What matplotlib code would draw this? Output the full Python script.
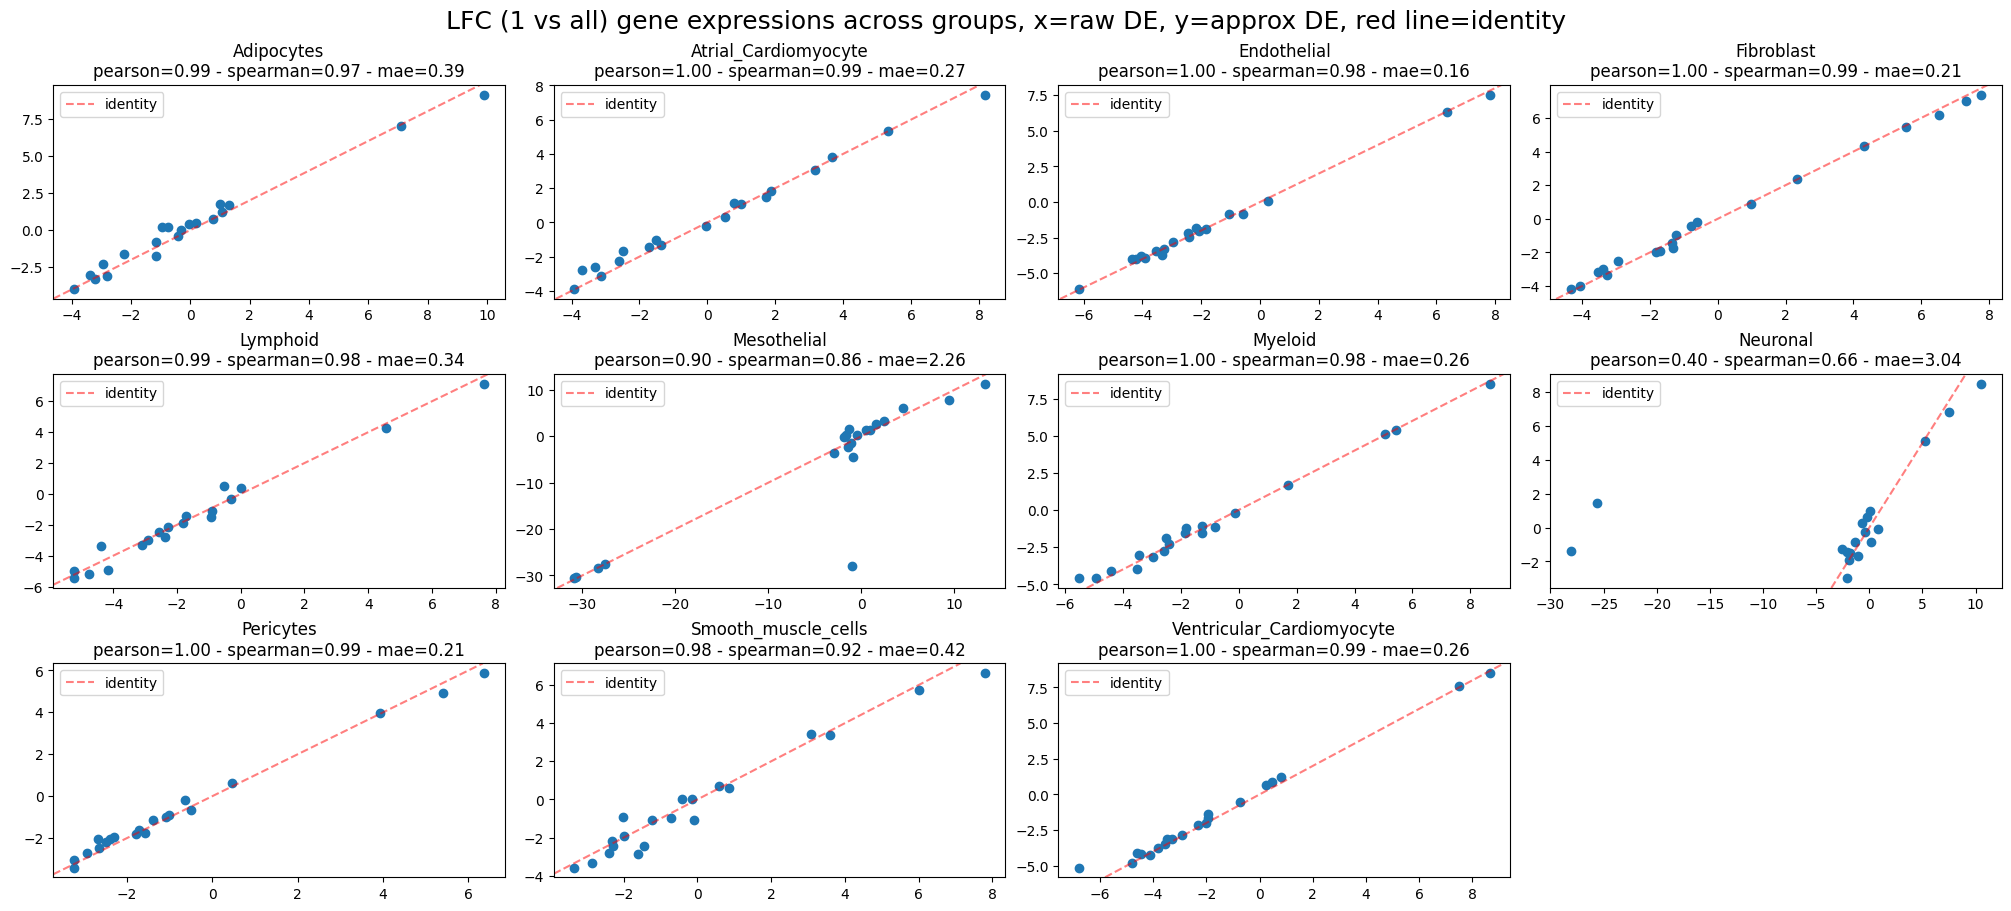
import matplotlib
matplotlib.use("Agg")
import matplotlib.pyplot as plt

groups = ["Adipocytes", "Atrial_Cardiomyocyte", "Endothelial", "Fibroblast",
          "Lymphoid", "Mesothelial", "Myeloid", "Neuronal",
          "Pericytes", "Smooth_muscle_cells", "Ventricular_Cardiomyocyte"]

pearson = [0.99, 1.00, 1.00, 1.00, 0.99, 0.90, 1.00, 0.40, 1.00, 0.98, 1.00]
spearman = [0.97, 0.99, 0.98, 0.99, 0.98, 0.86, 0.98, 0.66, 0.99, 0.92, 0.99]
mae = [0.39, 0.27, 0.16, 0.21, 0.34, 2.26, 0.26, 3.04, 0.21, 0.42, 0.26]

# raw DE (x) / approx DE (y) per group
adipo_x = [-3.93, -3.39, -3.2, -2.94, -2.82, -2.24, -1.15, -1.15, -0.94, -0.77,
           -0.41, -0.33, -0.06, 0.2, 0.77, 1.0, 1.05, 1.31, 7.11, 9.9]
adipo_y = [-3.98, -3.01, -3.3, -2.27, -3.1, -1.6, -0.79, -1.73, 0.22, 0.22,
           -0.43, 0.02, 0.43, 0.49, 0.74, 1.78, 1.19, 1.69, 7.01, 9.1]

atrial_x = [-3.92, -3.7, -3.31, -3.13, -2.61, -2.49, -1.73, -1.52, -1.37, -0.04,
            0.52, 0.79, 0.99, 1.72, 1.86, 3.16, 3.66, 5.33, 8.17]
atrial_y = [-3.9, -2.79, -2.61, -3.14, -2.26, -1.68, -1.44, -1.01, -1.33, -0.21,
            0.31, 1.13, 1.05, 1.48, 1.85, 3.06, 3.82, 5.35, 7.45]

endo_x = [-6.16, -4.35, -4.23, -4.04, -3.9, -3.53, -3.33, -3.27, -2.96, -2.45,
          -2.42, -2.17, -2.07, -1.84, -1.05, -0.58, 0.27, 6.37, 7.81]
endo_y = [-6.12, -4.01, -4.01, -3.82, -3.94, -3.45, -3.73, -3.28, -2.79, -2.16,
          -2.46, -1.85, -2.04, -1.9, -0.82, -0.82, 0.07, 6.33, 7.53]

fibro_x = [-4.34, -4.07, -3.54, -3.38, -3.27, -2.95, -1.82, -1.7, -1.35, -1.32,
           -1.23, -0.8, -0.61, 0.99, 2.33, 4.3, 5.56, 6.54, 7.32, 7.77]
fibro_y = [-4.19, -4.02, -3.16, -3.0, -3.32, -2.5, -1.97, -1.89, -1.45, -1.75,
           -0.95, -0.44, -0.2, 0.87, 2.37, 4.33, 5.45, 6.18, 7.02, 7.38]

lymph_x = [-5.24, -5.24, -4.75, -4.39, -4.15, -3.1, -2.91, -2.58, -2.39, -2.28,
           -1.8, -1.72, -0.94, -0.9, -0.53, -0.3, 0.01, 4.55, 7.64]
lymph_y = [-4.97, -5.46, -5.2, -3.39, -4.95, -3.28, -3.0, -2.46, -2.76, -2.14,
           -1.86, -1.43, -1.51, -1.1, 0.5, -0.35, 0.39, 4.3, 7.13]

meso_x = [-30.86, -30.68, -28.3, -27.6, -2.94, -1.9, -1.65, -1.36, -1.4, -1.11,
          -0.93, -1.04, -0.5, 0.47, 0.93, 1.61, 2.44, 4.48, 9.43, 13.26]
meso_y = [-30.6, -30.4, -28.3, -27.6, -3.6, -0.14, 0.29, 1.59, -2.38, -1.51,
          -4.47, -28.0, 0.29, 1.44, 1.44, 2.67, 3.32, 6.13, 7.78, 11.3]

myelo_x = [-5.51, -4.94, -4.39, -3.51, -3.43, -2.95, -2.57, -2.51, -2.39, -1.84,
           -1.82, -1.28, -1.26, -0.82, -0.13, 1.71, 5.06, 5.43, 8.66]
myelo_y = [-4.59, -4.59, -4.1, -3.99, -3.04, -3.13, -2.77, -1.89, -2.3, -1.53,
           -1.19, -1.06, -1.55, -1.15, -0.2, 1.69, 5.11, 5.4, 8.49]

neuro_x = [-28.1, -25.6, -2.57, -2.14, -1.95, -2.14, -1.79, -1.32, -1.1, -0.66,
           -0.38, -0.25, 0.06, 0.19, 0.85, 5.27, 7.47, 10.52]
neuro_y = [-1.4, 1.44, -1.28, -1.42, -1.92, -3.0, -1.52, -0.85, -1.66, 0.26,
           -0.28, 0.61, 0.95, -0.87, -0.1, 5.1, 6.84, 8.5]

peri_x = [-3.25, -3.25, -2.93, -2.67, -2.65, -2.5, -2.39, -2.31, -1.79, -1.73,
          -1.58, -1.4, -1.09, -1.02, -0.64, -0.51, 0.46, 3.93, 5.41, 6.37]
peri_y = [-3.06, -3.41, -2.7, -2.03, -2.46, -2.19, -2.03, -1.97, -1.83, -1.62,
          -1.75, -1.13, -1.0, -0.92, -0.17, -0.65, 0.63, 3.97, 4.92, 5.87]

smooth_x = [-3.34, -2.86, -2.41, -2.32, -2.29, -2.03, -2.0, -1.62, -1.46, -1.24,
            -0.72, -0.41, -0.15, -0.1, 0.58, 0.85, 3.07, 3.59, 6.0, 7.79]
smooth_y = [-3.57, -3.31, -2.79, -2.18, -2.42, -0.91, -1.92, -2.84, -2.42, -1.1,
            -0.96, 0.02, 0.02, -1.1, 0.73, 0.61, 3.43, 3.38, 5.73, 6.62]

ventr_x = [-6.78, -4.79, -4.61, -4.44, -4.12, -3.8, -3.54, -3.49, -3.29, -2.92,
           -2.32, -2.0, -1.95, -1.93, -0.75, 0.26, 0.46, 0.8, 7.48, 8.64]
ventr_y = [-5.12, -4.8, -4.07, -4.17, -4.24, -3.77, -3.44, -3.1, -3.14, -2.82,
           -2.12, -1.98, -1.65, -1.4, -0.56, 0.65, 0.84, 1.19, 7.57, 8.5]

raw_de = [adipo_x, atrial_x, endo_x, fibro_x, lymph_x, meso_x,
          myelo_x, neuro_x, peri_x, smooth_x, ventr_x]
approx_de = [adipo_y, atrial_y, endo_y, fibro_y, lymph_y, meso_y,
             myelo_y, neuro_y, peri_y, smooth_y, ventr_y]

fig, axes = plt.subplots(3, 4, figsize=(20, 9), dpi=100, layout="constrained")
axes = axes.flatten()

for i, g in enumerate(groups):
    ax = axes[i]
    ax.scatter(raw_de[i], approx_de[i])
    ax.axline((0, 0), slope=1, color="red", alpha=0.5, linestyle="--", label="identity")
    ax.set_title(f"{g}\npearson={pearson[i]:.2f} - spearman={spearman[i]:.2f} - mae={mae[i]:.2f}")
    ax.legend(loc="upper left")

axes[-1].axis("off")

fig.suptitle("LFC (1 vs all) gene expressions across groups, x=raw DE, y=approx DE, red line=identity",
             fontsize=18)
fig.savefig("out.png", dpi=100, bbox_inches="tight")
